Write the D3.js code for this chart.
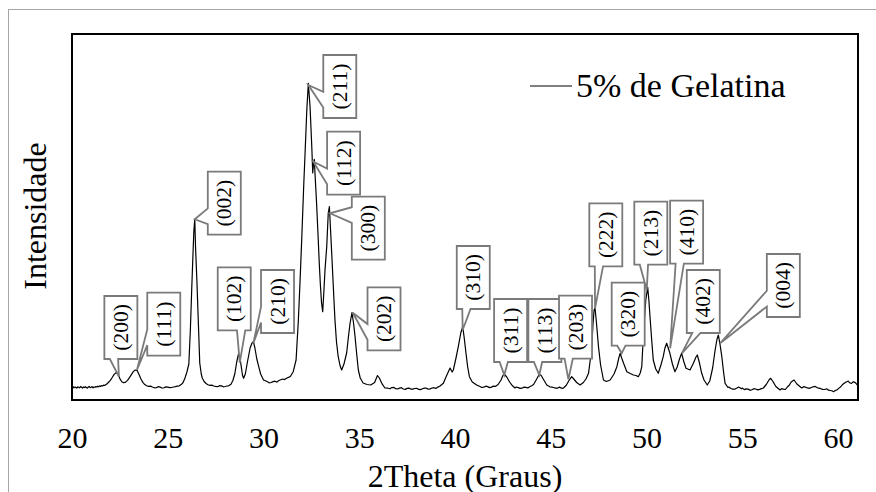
<!DOCTYPE html>
<html>
<head>
<meta charset="utf-8">
<script src="https://cdn.jsdelivr.net/npm/d3@7"></script>
<style>
  body { margin: 0; background: #fff; }
  svg { display: block; }
  text { font-family: "Liberation Serif", "Times New Roman", serif; fill: #000; }
</style>
</head>
<body>
<div id="chart"></div>
<script>
// XRD pattern, [2theta, intensity (a.u.)]
var pattern = [
  [20.0,12.5],[20.05,13.4],[20.1,12.1],[20.15,13.0],[20.2,12.6],[20.25,11.9],[20.3,13.2],[20.35,12.8],
  [20.4,12.2],[20.45,13.5],[20.5,12.7],[20.55,12.0],[20.6,13.1],[20.65,12.4],[20.7,13.3],[20.75,12.6],
  [20.8,11.8],[20.85,12.9],[20.9,13.6],[20.95,12.3],[21.0,12.8],[21.05,13.4],[21.1,12.1],[21.15,13.0],
  [21.2,12.7],[21.25,13.5],[21.3,12.9],[21.35,13.8],[21.4,13.2],[21.45,14.1],[21.5,13.6],[21.55,14.4],
  [21.6,14.0],[21.65,14.8],[21.7,14.6],[21.8,15.8],[21.9,17.5],[22.0,19.6],[22.1,22.5],[22.2,25.6],
  [22.3,27.4],[22.4,25.8],[22.5,21.4],[22.6,18.3],[22.7,17.2],[22.8,17.9],[22.9,19.6],[23.0,22.4],
  [23.1,25.4],[23.2,28.4],[23.3,30.0],[23.4,29.6],[23.5,25.5],[23.6,21.0],[23.7,17.6],[23.8,15.4],
  [23.9,14.3],[24.0,13.6],[24.1,13.9],[24.2,13.0],[24.3,12.2],[24.4,12.4],[24.5,13.3],[24.6,12.9],
  [24.7,12.0],[24.8,12.2],[24.9,13.1],[25.0,12.8],[25.1,12.3],[25.2,12.5],[25.3,13.0],[25.4,13.4],
  [25.5,13.9],[25.6,14.2],[25.7,15.4],[25.8,17.5],[25.9,22.0],[26.0,28.0],[26.1,36.0],[26.18,70],
  [26.25,110],[26.3,137],[26.36,168],[26.41,180.7],[26.45,153],[26.52,120],[26.58,87],[26.67,37],
  [26.75,26],[26.8,22],[26.9,18.5],[27.0,16.5],[27.1,15.3],[27.2,14.6],[27.3,14.9],[27.4,14.0],
  [27.5,13.6],[27.6,13.3],[27.7,14.3],[27.8,14.1],[27.9,13.2],[28.0,13.5],[28.1,14.0],[28.2,14.4],
  [28.3,15.8],[28.4,19.5],[28.5,26],[28.6,38],[28.7,46.7],[28.8,38.3],[28.9,25],[28.96,21.7],
  [29.05,26],[29.15,37],[29.3,52],[29.4,57],[29.47,58.3],[29.55,52],[29.65,41],[29.75,33.3],
  [29.85,26],[30.0,20],[30.1,19.2],[30.2,18.3],[30.3,17.2],[30.4,17.5],[30.5,18.4],[30.6,18.8],
  [30.7,17.9],[30.8,19.5],[30.9,20.3],[31.0,21.0],[31.1,20.4],[31.2,21.8],[31.3,22.6],[31.4,23.5],
  [31.55,28.3],[31.7,40],[31.82,80],[31.91,120],[32.0,163.3],[32.1,215],[32.17,247],[32.26,290],
  [32.34,316.7],[32.43,293.3],[32.52,253.3],[32.57,227],[32.62,238],[32.65,240.7],[32.72,215],
  [32.77,197],[32.84,168],[32.91,137],[32.97,115],[33.03,97],[33.09,88.3],[33.15,108],[33.21,130],
  [33.3,153.3],[33.38,187],[33.44,193.3],[33.5,170],[33.56,147],[33.64,115],[33.73,80],[33.81,58],
  [33.9,43.3],[34.0,34],[34.08,30],[34.2,36],[34.34,47],[34.45,66],[34.52,77],[34.62,87.3],
  [34.7,77],[34.78,63.3],[34.87,45],[34.95,30],[35.05,22],[35.2,17],[35.4,15.5],[35.6,15.0],
  [35.8,17.5],[35.95,24.5],[36.05,22.0],[36.2,15.8],[36.34,12],[36.5,11.8],[36.6,11.2],[36.7,12.4],
  [36.8,12.7],[36.9,11.3],[37.0,11.0],[37.1,11.9],[37.2,12.3],[37.3,11.0],[37.4,10.6],[37.5,11.6],
  [37.6,11.9],[37.7,10.8],[37.8,10.9],[37.9,11.5],[38.0,11.7],[38.1,10.6],[38.2,10.4],[38.3,11.2],
  [38.4,11.9],[38.5,11.8],[38.6,10.9],[38.7,11.1],[38.8,12.0],[38.9,12.3],[39.0,11.6],[39.1,12.9],
  [39.2,13.8],[39.39,16.7],[39.55,24],[39.74,32],[39.85,28],[39.91,30],[40.05,42],[40.17,53.3],
  [40.3,67],[40.4,73.3],[40.48,62],[40.57,47],[40.66,33],[40.75,23.3],[40.9,18],[41.13,15],
  [41.3,13.5],[41.4,12.5],[41.5,12.8],[41.6,13.8],[41.7,13.4],[41.8,12.4],[41.9,12.9],[42.0,13.9],
  [42.1,13.6],[42.25,15.5],[42.4,20],[42.5,24.5],[42.58,25.7],[42.7,23],[42.85,18],[43.0,14.2],
  [43.13,12],[43.2,13.0],[43.3,12.4],[43.4,11.6],[43.5,11.8],[43.6,12.9],[43.7,12.6],[43.8,12.1],
  [43.9,13.3],[44.0,14.2],[44.1,15.5],[44.25,20.5],[44.4,25.7],[44.5,24.5],[44.65,19.5],[44.79,15],
  [44.95,13.2],[45.05,12.9],[45.15,12.5],[45.25,11.9],[45.35,11.8],[45.45,12.9],[45.5,12.4],
  [45.6,11.6],[45.66,12],[45.8,14.5],[45.95,19.5],[46.09,23.3],[46.2,21],[46.35,17.5],[46.53,15],
  [46.7,17.5],[46.85,21.5],[46.97,26.7],[47.06,40],[47.14,53.3],[47.2,75],[47.26,90],[47.31,91.7],
  [47.38,78],[47.49,53.3],[47.6,35],[47.75,20],[47.9,18.5],[48.1,20],[48.3,26],[48.45,33.3],
  [48.55,42],[48.62,46.7],[48.7,42],[48.8,36.7],[48.97,28.3],[49.15,26.5],[49.31,25],[49.45,24.5],
  [49.57,23.3],[49.67,27],[49.75,33.3],[49.84,67],[49.96,100],[50.06,112.7],[50.12,100],[50.18,83.3],
  [50.26,62],[50.35,40],[50.48,31],[50.61,26.7],[50.75,35],[50.87,43.3],[50.96,52],[51.05,56.7],
  [51.13,52],[51.22,46.7],[51.35,36],[51.48,28.3],[51.6,33],[51.72,41],[51.83,46.7],[51.95,38],
  [52.06,31.7],[52.27,30],[52.45,37],[52.58,43],[52.65,45],[52.75,38],[52.88,26.7],[53.0,20],
  [53.17,15],[53.3,19],[53.45,32],[53.58,50],[53.68,61],[53.75,65],[53.84,55],[53.93,43.3],
  [54.02,28],[54.1,16.7],[54.25,12.5],[54.3,13.0],[54.4,11.5],[54.5,10.9],[54.6,10.8],[54.7,11.8],
  [54.8,13.0],[54.9,11.9],[54.95,11.2],[55.0,12.0],[55.1,10.4],[55.2,11.1],[55.3,10.9],[55.4,9.9],
  [55.5,10.2],[55.6,11.3],[55.7,11.0],[55.8,10.1],[55.9,10.6],[56.0,11.4],[56.1,12.0],[56.25,15.5],
  [56.4,20.2],[56.48,21.7],[56.6,18.5],[56.75,13.5],[56.97,10],[57.05,11.3],[57.15,10.8],[57.25,10.5],
  [57.35,13],[57.45,14.8],[57.55,18],[57.7,20],[57.85,16],[58.1,12],[58.2,13.3],[58.3,12.8],
  [58.4,12.1],[58.5,11.6],[58.6,12.5],[58.7,13.2],[58.8,13.6],[58.9,12.4],[59.0,11.8],[59.1,11.3],
  [59.2,10.6],[59.3,10.5],[59.4,11.2],[59.5,9.8],[59.6,9.5],[59.7,9.0],[59.76,8.3],[59.85,9.4],
  [59.95,10.2],[60.05,11.9],[60.15,13.5],[60.22,15.2],[60.3,16.5],[60.38,17.6],[60.46,18.3],
  [60.53,19.0],[60.6,17.2],[60.7,16.6],[60.8,18.3],[60.9,17.4],[61.0,15.2],[61.04,14.5]
];

var xTicks = [20, 25, 30, 35, 40, 45, 50, 55, 60];
var seriesName = "5% de Gelatina";

// peak labels: hkl, tip of the pointer (2theta, intensity)
var peakLabels = ["(200)","(111)","(002)","(102)","(210)","(211)","(112)","(300)","(202)","(310)",
                  "(311)","(113)","(203)","(222)","(320)","(213)","(410)","(402)","(004)"];
var peakTips = [[22.45,23.3],[23.39,30],[26.41,180.7],[28.76,37.3],[29.47,56.7],[32.34,315],
                [32.6,238.3],[33.47,186.7],[34.66,87.3],[40.4,70],[42.57,25],[44.4,25],[45.92,20.7],
                [47.31,91.7],[48.7,46.7],[50.01,110],[51.23,51.7],[51.84,46.7],[53.84,56.7]];
// callout box top-left corner, also in data units, and where the pointer leaves the box
var boxCorners = [[21.69,104],[23.93,107.3],[27.09,228.3],[27.61,132.7],[29.87,130],[33.12,345],
                  [33.32,268.3],[34.61,203.3],[35.43,112.7],[40.09,154],[42.04,101],[43.83,101],
                  [45.43,104.3],[47.01,196.7],[48.18,117.3],[49.36,198.3],[51.23,199.3],[52.1,130],
                  [56.28,146]];
var wedgeSide = ["b1","l2","l2","b2","l2","l2","l2","l1","l2","b1",
                 "b1","b1","b1","b1","b1","b1","b1","b1","l2"];

var width = 876;
var height = 492;
var margin = {top: 34, right: 18, bottom: 92, left: 72};
var boxW = 33, boxH = 63;

var svg = d3.select("#chart")
            .append("svg")
            .attr("width", width)
            .attr("height", height);

// outer chart area border
svg.append("rect")
   .attr("x", 8.5).attr("y", 9.5)
   .attr("width", 900).attr("height", 500)
   .attr("fill", "none")
   .attr("stroke", "#a6a6a6")
   .attr("stroke-width", 1);

var x = d3.scaleLinear().domain([20, 61.04]).range([margin.left, width - margin.right]);
var y = d3.scaleLinear().domain([0, 366]).range([height - margin.bottom, margin.top]);

var line = d3.line()
             .x(function(d){ return x(d[0]); })
             .y(function(d){ return y(d[1]); });

svg.append("path")
   .datum(pattern)
   .attr("d", line)
   .attr("fill", "none")
   .attr("stroke", "#000")
   .attr("stroke-width", 1.2)
   .attr("stroke-linejoin", "round");

// plot frame
svg.append("rect")
   .attr("x", margin.left).attr("y", margin.top)
   .attr("width", width - margin.right - margin.left)
   .attr("height", height - margin.bottom - margin.top)
   .attr("fill", "none")
   .attr("stroke", "#000")
   .attr("stroke-width", 2);

var xaxis = d3.axisBottom(x).tickValues(xTicks).tickSize(0).tickPadding(27);
var gx = svg.append("g")
            .attr("transform", "translate(0," + (height - margin.bottom) + ")")
            .call(xaxis);
gx.select(".domain").remove();
gx.selectAll("text")
  .style("font-family", '"Liberation Serif", serif')
  .style("font-size", "30px");

svg.append("text")
   .attr("x", (margin.left + width - margin.right) / 2)
   .attr("y", 487)
   .attr("text-anchor", "middle")
   .style("font-size", "32px")
   .text("2Theta (Graus)");

svg.append("text")
   .attr("transform", "translate(46,216) rotate(-90)")
   .attr("text-anchor", "middle")
   .style("font-size", "32px")
   .text("Intensidade");

// legend
svg.append("line")
   .attr("x1", 530).attr("x2", 572)
   .attr("y1", 86).attr("y2", 86)
   .attr("stroke", "#000").attr("stroke-width", 1.2);
svg.append("text")
   .attr("x", 576).attr("y", 97)
   .style("font-size", "34px")
   .text(seriesName);

// callouts: rectangle with a wedge pointing to the peak
function calloutPath(bx, by, tx, ty, side) {
  var w = boxW, h = boxH;
  var a = side[1] === "1" ? 2/12 : 7/12;
  var b = side[1] === "1" ? 5/12 : 10/12;
  var p = [];
  p.push([bx, by], [bx + w, by], [bx + w, by + h]);
  if (side[0] === "b") {
    p.push([bx + w * b, by + h], [tx, ty], [bx + w * a, by + h]);
  }
  p.push([bx, by + h]);
  if (side[0] === "l") {
    p.push([bx, by + h * b], [tx, ty], [bx, by + h * a]);
  }
  return "M" + p.map(function(q){ return q[0] + "," + q[1]; }).join("L") + "Z";
}

var callouts = svg.selectAll(".callout")
                  .data(peakLabels)
                  .enter()
                  .append("g")
                  .attr("class", "callout");

callouts.append("path")
        .attr("d", function(d, i){
          return calloutPath(x(boxCorners[i][0]), y(boxCorners[i][1]),
                             x(peakTips[i][0]), y(peakTips[i][1]), wedgeSide[i]);
        })
        .attr("fill", "#fff")
        .attr("stroke", "#7a7a7a")
        .attr("stroke-width", 1.8)
        .attr("stroke-linejoin", "miter");

callouts.append("text")
        .attr("transform", function(d, i){
          var cx = x(boxCorners[i][0]) + boxW / 2;
          var cy = y(boxCorners[i][1]) + boxH / 2;
          return "translate(" + cx + "," + cy + ") rotate(-90)";
        })
        .attr("text-anchor", "middle")
        .attr("dy", "0.33em")
        .style("font-size", "21.5px")
        .text(function(d){ return d; });
</script>
</body>
</html>
